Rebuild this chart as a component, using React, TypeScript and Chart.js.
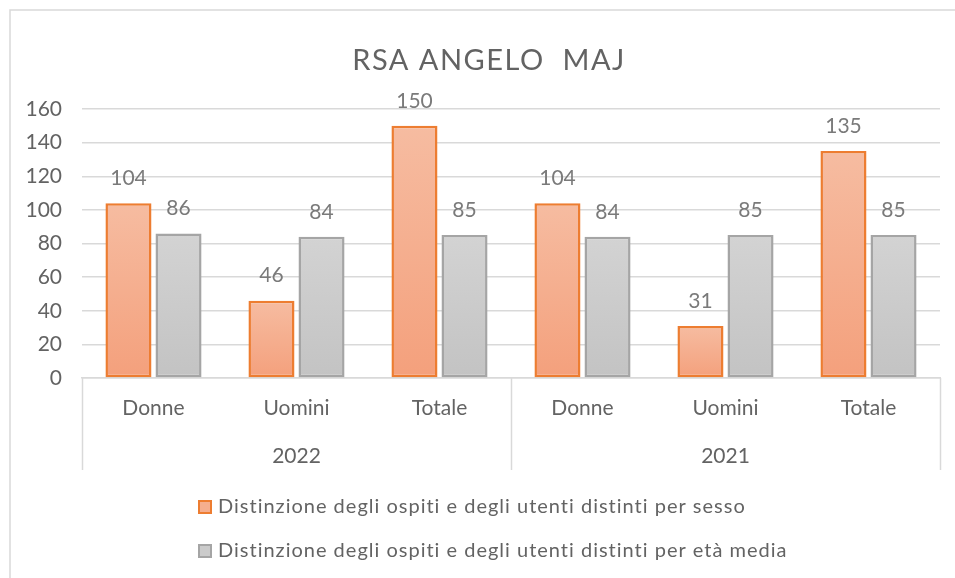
import React, { useEffect, useRef } from "react";
import { Chart, registerables } from "chart.js";

Chart.register(...registerables);

const TITLE = "RSA ANGELO  MAJ";
const categories = ["Donne", "Uomini", "Totale", "Donne", "Uomini", "Totale"];
const years = ["2022", "2021"];
const yearSpan = 3;
const seriesSesso = [104, 46, 150, 104, 31, 135];
const seriesEta = [86, 84, 85, 84, 85, 85];
const seriesLabels = [
  "Distinzione degli ospiti e degli utenti distinti per sesso",
  "Distinzione degli ospiti e degli utenti distinti per età media",
];
const yTicks = [0, 20, 40, 60, 80, 100, 120, 140, 160];

const FONT = "Lato, 'Noto Sans', sans-serif";
const TEXT = "#636363";

function barGradient(ctx: any, top: string, bottom: string) {
  const chart = ctx.chart;
  const area = chart.chartArea;
  if (!area || ctx.type !== "data") return top;
  const ys = chart.scales.y;
  const y0 = ys.getPixelForValue(ctx.raw);
  const y1 = ys.getPixelForValue(0);
  if (!isFinite(y0) || !isFinite(y1) || y0 === y1) return top;
  const g = chart.ctx.createLinearGradient(0, y0, 0, y1);
  g.addColorStop(0, top);
  g.addColorStop(1, bottom);
  return g;
}

const decorPlugin = {
  id: "decor",
  beforeDraw(chart: any) {
    const c = chart.ctx;
    c.save();
    c.strokeStyle = "#d9d9d9";
    c.lineWidth = 1.5;
    c.beginPath();
    c.moveTo(10, chart.height + 5);
    c.lineTo(10, 10);
    c.lineTo(chart.width + 5, 10);
    c.stroke();
    c.restore();
  },
  afterDraw(chart: any) {
    const c = chart.ctx;
    const xs = chart.scales.x;
    const area = chart.chartArea;
    c.save();
    // title
    c.fillStyle = TEXT;
    c.font = `29px ${FONT}`;
    c.textAlign = "center";
    c.textBaseline = "middle";
    (c as any).letterSpacing = "1.5px";
    c.fillText(TITLE, 489, 61);
    (c as any).letterSpacing = "0px";

    // data labels
    c.font = `21px ${FONT}`;
    c.fillStyle = "#7a7a7a";
    chart.data.datasets.forEach((ds: any, di: number) => {
      const meta = chart.getDatasetMeta(di);
      meta.data.forEach((bar: any, i: number) => {
        c.fillText(String(ds.data[i]), bar.x, bar.y - 25);
      });
    });

    // group separators and year labels
    const half = (xs.getPixelForValue(1) - xs.getPixelForValue(0)) / 2;
    c.strokeStyle = "#d9d9d9";
    c.lineWidth = 1.5;
    const sepBottom = 470;
    for (let g = 0; g <= years.length; g++) {
      const idx = g * yearSpan;
      const x =
        idx < categories.length
          ? xs.getPixelForValue(idx) - half
          : xs.getPixelForValue(categories.length - 1) + half;
      c.beginPath();
      c.moveTo(Math.round(x) + 0.5, area.bottom);
      c.lineTo(Math.round(x) + 0.5, sepBottom);
      c.stroke();
    }
    c.fillStyle = TEXT;
    c.font = `21px ${FONT}`;
    years.forEach((yr, g) => {
      const a = xs.getPixelForValue(g * yearSpan) - half;
      const b = xs.getPixelForValue(g * yearSpan + yearSpan - 1) + half;
      c.fillText(yr, (a + b) / 2, 456);
    });

    // legend
    const rows = [507, 551];
    c.font = `20px ${FONT}`;
    (c as any).letterSpacing = "1px";
    chart.data.datasets.forEach((ds: any, di: number) => {
      const y = rows[di];
      c.fillStyle = ds.legendFill;
      c.strokeStyle = ds.borderColor;
      c.lineWidth = 2;
      c.fillRect(199, y - 6, 12, 12);
      c.strokeRect(199, y - 6, 12, 12);
      c.fillStyle = TEXT;
      c.textAlign = "left";
      c.fillText(seriesLabels[di], 218, y);
    });
    (c as any).letterSpacing = "0px";
    c.restore();
  },
};

export default function App() {
  const ref = useRef<HTMLCanvasElement>(null);
  useEffect(() => {
    document.body.style.margin = "0";
    document.body.style.overflow = "hidden";
    const canvas = ref.current!;
    const chart = new Chart(canvas, {
      type: "bar",
      data: {
        labels: categories,
        datasets: [
          {
            label: seriesLabels[0],
            data: seriesSesso,
            backgroundColor: (ctx: any) => barGradient(ctx, "#F6BCA1", "#F4A07C"),
            borderColor: "#ED7D31",
            borderWidth: 2.5,
            borderSkipped: false,
            barPercentage: 0.92,
            categoryPercentage: 0.7,
            legendFill: "#F5AE8E",
          } as any,
          {
            label: seriesLabels[1],
            data: seriesEta,
            backgroundColor: (ctx: any) => barGradient(ctx, "#D3D3D3", "#C3C3C3"),
            borderColor: "#A5A5A5",
            borderWidth: 2.5,
            borderSkipped: false,
            barPercentage: 0.92,
            categoryPercentage: 0.7,
            legendFill: "#CBCBCB",
          } as any,
        ],
      },
      options: {
        responsive: false,
        animation: false,
        layout: { padding: { top: 109, right: 15, left: 0, bottom: 0 } },
        plugins: {
          legend: { display: false },
          title: { display: false },
          tooltip: { enabled: false },
        },
        scales: {
          x: {
            grid: { display: false, drawTicks: false },
            border: { display: true, color: "#d9d9d9", width: 1.5 },
            ticks: {
              color: TEXT,
              font: { family: FONT, size: 21 },
              padding: 18,
              maxRotation: 0,
            },
            afterFit: (s: any) => {
              s.height = 200;
            },
          },
          y: {
            min: 0,
            max: 160,
            afterBuildTicks: (s: any) => {
              s.ticks = yTicks.map((v) => ({ value: v }));
            },
            grid: { color: "#d9d9d9", lineWidth: 1.5, drawTicks: false },
            border: { display: false },
            ticks: {
              color: TEXT,
              font: { family: FONT, size: 21 },
              padding: 20,
            },
            afterFit: (s: any) => {
              s.width = 82;
            },
          },
        },
      } as any,
      plugins: [decorPlugin],
    });
    return () => chart.destroy();
  }, []);
  return (
    <div style={{ position: "fixed", left: 0, top: 0, width: 955, height: 578, background: "#fff" }}>
      <canvas ref={ref} width={955} height={578} style={{ display: "block" }} />
    </div>
  );
}
